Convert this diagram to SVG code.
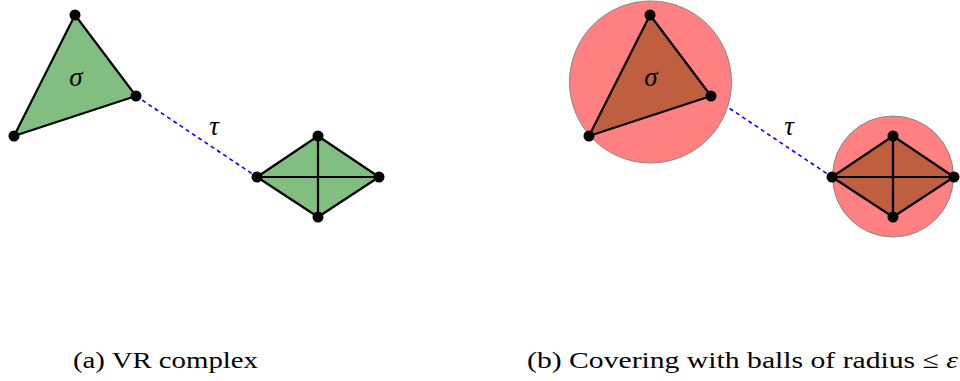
<svg xmlns="http://www.w3.org/2000/svg" width="960" height="381" viewBox="0 0 960 381">
<style>
.ball{fill:#ff8080;stroke:#888;stroke-width:1}
.g{fill:#80bf80;stroke:#000;stroke-width:2.2;stroke-linejoin:round}
.b{fill:#c05f40;stroke:#000;stroke-width:2.2;stroke-linejoin:round}
.e{fill:none;stroke:#000;stroke-width:2.2}
.d{fill:none;stroke:#0000ff;stroke-width:1.6;stroke-dasharray:4,3.5}
.v{fill:#000}
.m{font-family:"Liberation Serif",serif;font-style:italic;font-size:27px;fill:#000}
.cap{font-family:"Liberation Serif",serif;font-size:24px;fill:#000}
</style>
<g id="connectors">
<line class="d" x1="136" y1="96" x2="257" y2="177"/>
<line class="d" x1="711" y1="96" x2="832" y2="177"/>
</g>
<g id="ball-left">
<circle class="ball" cx="650.5" cy="82" r="81"/>
</g>
<g id="ball-right">
<circle class="ball" cx="893" cy="176.5" r="60.5"/>
</g>
<g id="triangle-a">
<polygon class="g" points="75,15 136,96 14,136"/>
<text class="m" x="76" y="86" text-anchor="middle">σ</text>
<circle class="v" cx="75" cy="15" r="5.5"/>
<circle class="v" cx="136" cy="96" r="5.5"/>
<circle class="v" cx="14" cy="136" r="5.5"/>
</g>
<g id="tetra-a">
<polygon class="g" points="257,177 318,136 379,177 318,217"/>
<line class="e" x1="318" y1="136" x2="318" y2="217"/>
<line class="e" x1="257" y1="177" x2="379" y2="177"/>
<circle class="v" cx="257" cy="177" r="5.5"/>
<circle class="v" cx="318" cy="136" r="5.5"/>
<circle class="v" cx="379" cy="177" r="5.5"/>
<circle class="v" cx="318" cy="217" r="5.5"/>
</g>
<g id="tau-a"><text class="m" x="214" y="135" text-anchor="middle">τ</text></g>
<g id="triangle-b">
<polygon class="b" points="650,15 711,96 589,136"/>
<text class="m" x="651" y="86" text-anchor="middle">σ</text>
<circle class="v" cx="650" cy="15" r="5.5"/>
<circle class="v" cx="711" cy="96" r="5.5"/>
<circle class="v" cx="589" cy="136" r="5.5"/>
</g>
<g id="tetra-b">
<polygon class="b" points="832,177 893,136 954,177 893,217"/>
<line class="e" x1="893" y1="136" x2="893" y2="217"/>
<line class="e" x1="832" y1="177" x2="954" y2="177"/>
<circle class="v" cx="832" cy="177" r="5.5"/>
<circle class="v" cx="893" cy="136" r="5.5"/>
<circle class="v" cx="954" cy="177" r="5.5"/>
<circle class="v" cx="893" cy="217" r="5.5"/>
</g>
<g id="tau-b"><text class="m" x="789" y="135" text-anchor="middle">τ</text></g>
<g id="captions">
<text class="cap" x="73" y="368" textLength="185" lengthAdjust="spacingAndGlyphs">(a) VR complex</text>
<text class="cap" x="527" y="368" textLength="431" lengthAdjust="spacingAndGlyphs">(b) Covering with balls of radius ≤ <tspan font-style="italic">ε</tspan></text>
</g>
</svg>
